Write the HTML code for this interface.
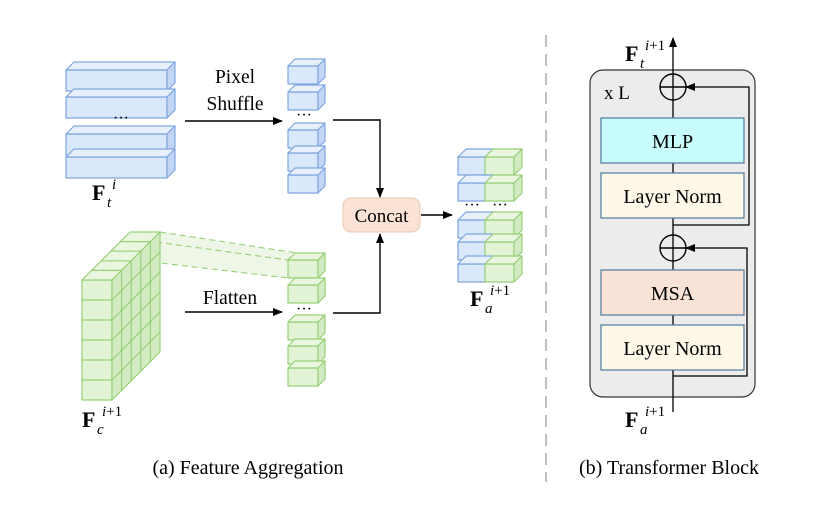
<!DOCTYPE html>
<html><head><meta charset="utf-8"><style>
html,body{margin:0;padding:0;background:#fff;}
svg{display:block;font-family:"Liberation Serif",serif;}
</style></head><body>
<svg width="814" height="514" viewBox="0 0 814 514" xmlns="http://www.w3.org/2000/svg">
<defs>
<marker id="ar" markerWidth="10" markerHeight="8" refX="9" refY="4" orient="auto" markerUnits="userSpaceOnUse"><path d="M0,0 L10,4 L0,8 Z" fill="#000"/></marker>
</defs>
<g stroke="#7ea6e0" stroke-width="1.2" stroke-linejoin="round">
<g><rect x="66" y="70" width="101" height="21" fill="#dae8fc"/><polygon points="66,70 74,62 175,62 167,70" fill="#e8f0fd"/><polygon points="167,70 175,62 175,83 167,91" fill="#c2d5f4"/></g>
<g><rect x="66" y="97" width="101" height="21" fill="#dae8fc"/><polygon points="66,97 74,89 175,89 167,97" fill="#e8f0fd"/><polygon points="167,97 175,89 175,110 167,118" fill="#c2d5f4"/></g>
<g><rect x="66" y="134" width="101" height="21" fill="#dae8fc"/><polygon points="66,134 74,126 175,126 167,134" fill="#e8f0fd"/><polygon points="167,134 175,126 175,147 167,155" fill="#c2d5f4"/></g>
<g><rect x="66" y="157" width="101" height="21" fill="#dae8fc"/><polygon points="66,157 74,149 175,149 167,157" fill="#e8f0fd"/><polygon points="167,157 175,149 175,170 167,178" fill="#c2d5f4"/></g>
<g><rect x="288" y="66" width="30" height="18" fill="#dae8fc"/><polygon points="288,66 295,59 325,59 318,66" fill="#e8f0fd"/><polygon points="318,66 325,59 325,77 318,84" fill="#c2d5f4"/></g>
<g><rect x="288" y="92" width="30" height="18" fill="#dae8fc"/><polygon points="288,92 295,85 325,85 318,92" fill="#e8f0fd"/><polygon points="318,92 325,85 325,103 318,110" fill="#c2d5f4"/></g>
<g><rect x="288" y="130" width="30" height="18" fill="#dae8fc"/><polygon points="288,130 295,123 325,123 318,130" fill="#e8f0fd"/><polygon points="318,130 325,123 325,141 318,148" fill="#c2d5f4"/></g>
<g><rect x="288" y="153" width="30" height="18" fill="#dae8fc"/><polygon points="288,153 295,146 325,146 318,153" fill="#e8f0fd"/><polygon points="318,153 325,146 325,164 318,171" fill="#c2d5f4"/></g>
<g><rect x="288" y="175" width="30" height="18" fill="#dae8fc"/><polygon points="288,175 295,168 325,168 318,175" fill="#e8f0fd"/><polygon points="318,175 325,168 325,186 318,193" fill="#c2d5f4"/></g>
</g>
<polygon points="160,232 295,253 288,278 150,262" fill="#eef6e8" stroke="none"/>
<g stroke="#97d077" stroke-width="1.1" stroke-dasharray="6,4" fill="none">
<line x1="160" y1="232" x2="297" y2="253"/><line x1="156" y1="242" x2="288" y2="260"/><line x1="152" y1="262" x2="288" y2="278"/>
</g>
<g stroke="#97d077" stroke-width="1.2" stroke-linejoin="round">
<rect x="82" y="280" width="30" height="120" fill="#e3f3d6"/>
<polygon points="82,280 130,232 160,232 112,280" fill="#eaf6e0"/>
<polygon points="112,280 160,232 160,352 112,400" fill="#d3ebc2"/>
<g fill="none">
<line x1="82" y1="300" x2="112" y2="300"/><line x1="82" y1="320" x2="112" y2="320"/><line x1="82" y1="340" x2="112" y2="340"/><line x1="82" y1="360" x2="112" y2="360"/><line x1="82" y1="380" x2="112" y2="380"/>
<line x1="112" y1="300" x2="160" y2="252"/><line x1="112" y1="320" x2="160" y2="272"/><line x1="112" y1="340" x2="160" y2="292"/><line x1="112" y1="360" x2="160" y2="312"/><line x1="112" y1="380" x2="160" y2="332"/>
<line x1="121.6" y1="270.4" x2="121.6" y2="390.4"/><line x1="131.2" y1="260.8" x2="131.2" y2="380.8"/><line x1="140.8" y1="251.2" x2="140.8" y2="371.2"/><line x1="150.4" y1="241.6" x2="150.4" y2="361.6"/>
<line x1="91.6" y1="270.4" x2="121.6" y2="270.4"/><line x1="101.2" y1="260.8" x2="131.2" y2="260.8"/><line x1="110.8" y1="251.2" x2="140.8" y2="251.2"/><line x1="120.4" y1="241.6" x2="150.4" y2="241.6"/>
</g>
<g><rect x="288" y="260" width="30" height="18" fill="#e3f3d6"/><polygon points="288,260 295,253 325,253 318,260" fill="#eaf6e0"/><polygon points="318,260 325,253 325,271 318,278" fill="#d3ebc2"/></g>
<g><rect x="288" y="285" width="30" height="18" fill="#e3f3d6"/><polygon points="288,285 295,278 325,278 318,285" fill="#eaf6e0"/><polygon points="318,285 325,278 325,296 318,303" fill="#d3ebc2"/></g>
<g><rect x="288" y="322" width="30" height="18" fill="#e3f3d6"/><polygon points="288,322 295,315 325,315 318,322" fill="#eaf6e0"/><polygon points="318,322 325,315 325,333 318,340" fill="#d3ebc2"/></g>
<g><rect x="288" y="346" width="30" height="18" fill="#e3f3d6"/><polygon points="288,346 295,339 325,339 318,346" fill="#eaf6e0"/><polygon points="318,346 325,339 325,357 318,364" fill="#d3ebc2"/></g>
<g><rect x="288" y="368" width="30" height="18" fill="#e3f3d6"/><polygon points="288,368 295,361 325,361 318,368" fill="#eaf6e0"/><polygon points="318,368 325,361 325,379 318,386" fill="#d3ebc2"/></g>
</g>
<g stroke-width="1.2" stroke-linejoin="round">
<g><rect x="458" y="157" width="27" height="18" fill="#dae8fc" stroke="#7ea6e0"/><polygon points="458,157 466,149 493,149 485,157" fill="#e8f0fd" stroke="#7ea6e0"/><rect x="485" y="157" width="29" height="18" fill="#e3f3d6" stroke="#97d077"/><polygon points="485,157 493,149 522,149 514,157" fill="#eaf6e0" stroke="#97d077"/><polygon points="514,157 522,149 522,167 514,175" fill="#d3ebc2" stroke="#97d077"/></g>
<g><rect x="458" y="183" width="27" height="18" fill="#dae8fc" stroke="#7ea6e0"/><polygon points="458,183 466,175 493,175 485,183" fill="#e8f0fd" stroke="#7ea6e0"/><rect x="485" y="183" width="29" height="18" fill="#e3f3d6" stroke="#97d077"/><polygon points="485,183 493,175 522,175 514,183" fill="#eaf6e0" stroke="#97d077"/><polygon points="514,183 522,175 522,193 514,201" fill="#d3ebc2" stroke="#97d077"/></g>
<g><rect x="458" y="220" width="27" height="18" fill="#dae8fc" stroke="#7ea6e0"/><polygon points="458,220 466,212 493,212 485,220" fill="#e8f0fd" stroke="#7ea6e0"/><rect x="485" y="220" width="29" height="18" fill="#e3f3d6" stroke="#97d077"/><polygon points="485,220 493,212 522,212 514,220" fill="#eaf6e0" stroke="#97d077"/><polygon points="514,220 522,212 522,230 514,238" fill="#d3ebc2" stroke="#97d077"/></g>
<g><rect x="458" y="242" width="27" height="18" fill="#dae8fc" stroke="#7ea6e0"/><polygon points="458,242 466,234 493,234 485,242" fill="#e8f0fd" stroke="#7ea6e0"/><rect x="485" y="242" width="29" height="18" fill="#e3f3d6" stroke="#97d077"/><polygon points="485,242 493,234 522,234 514,242" fill="#eaf6e0" stroke="#97d077"/><polygon points="514,242 522,234 522,252 514,260" fill="#d3ebc2" stroke="#97d077"/></g>
<g><rect x="458" y="264" width="27" height="18" fill="#dae8fc" stroke="#7ea6e0"/><polygon points="458,264 466,256 493,256 485,264" fill="#e8f0fd" stroke="#7ea6e0"/><rect x="485" y="264" width="29" height="18" fill="#e3f3d6" stroke="#97d077"/><polygon points="485,264 493,256 522,256 514,264" fill="#eaf6e0" stroke="#97d077"/><polygon points="514,264 522,256 522,274 514,282" fill="#d3ebc2" stroke="#97d077"/></g>
</g>
<g font-size="16" fill="#000" text-anchor="middle">
<text x="121" y="123">···</text><text x="304" y="120">···</text><text x="304" y="314">···</text><text x="472" y="210">···</text><text x="500" y="210">···</text>
</g>
<g stroke="#000" stroke-width="1.4" fill="none">
<line x1="185" y1="121" x2="282" y2="121" marker-end="url(#ar)"/>
<line x1="185" y1="312" x2="282" y2="312" marker-end="url(#ar)"/>
<polyline points="333,120 380,120 380,197" marker-end="url(#ar)"/>
<polyline points="333,313 380,313 380,234" marker-end="url(#ar)"/>
<line x1="421" y1="215" x2="452" y2="215" marker-end="url(#ar)"/>
</g>
<rect x="343" y="198" width="77" height="34" rx="8" fill="#fae3d4" stroke="#e9c9b4" stroke-width="1"/>
<text x="381.5" y="222" font-size="19" text-anchor="middle">Concat</text>
<g font-size="19.5" text-anchor="middle">
<text x="235" y="83">Pixel</text><text x="235" y="110">Shuffle</text><text x="230" y="304">Flatten</text>
</g>
<g font-size="22">
<text x="92" y="200" font-weight="bold">F</text><text x="107" y="207" font-size="15" font-style="italic">t</text><text x="112" y="189" font-size="15" font-style="italic">i</text>
<text x="82" y="427" font-weight="bold">F</text><text x="97" y="434" font-size="15" font-style="italic">c</text><text x="102" y="416" font-size="15"><tspan font-style="italic">i</tspan>+1</text>
<text x="470" y="306" font-weight="bold">F</text><text x="485" y="313" font-size="15" font-style="italic">a</text><text x="490" y="295" font-size="15"><tspan font-style="italic">i</tspan>+1</text>
<text x="625" y="61" font-weight="bold">F</text><text x="640" y="68" font-size="15" font-style="italic">t</text><text x="645" y="50" font-size="15"><tspan font-style="italic">i</tspan>+1</text>
<text x="625" y="427" font-weight="bold">F</text><text x="640" y="434" font-size="15" font-style="italic">a</text><text x="645" y="416" font-size="15"><tspan font-style="italic">i</tspan>+1</text>
</g>
<line x1="546" y1="35" x2="546" y2="482" stroke="#aaa" stroke-width="1.5" stroke-dasharray="12,7"/>
<rect x="590" y="70" width="165" height="327" rx="13" fill="#ececec" stroke="#333" stroke-width="1.2"/>
<text x="604" y="99" font-size="19">x L</text>
<g stroke="#000" stroke-width="1.3" fill="none">
<line x1="673" y1="412" x2="673" y2="38" marker-end="url(#ar)"/>
<polyline points="673,225 749,225 749,87 686,87" marker-end="url(#ar)"/>
<polyline points="673,376 747,376 747,248 686,248" marker-end="url(#ar)"/>
</g>
<g stroke="#4d7aa0" stroke-width="1.2">
<rect x="601" y="118" width="143" height="45" fill="#c8fcfd"/>
<rect x="601" y="173" width="143" height="45" fill="#fdf8e8"/>
<rect x="601" y="270" width="143" height="45" fill="#f9e3d6"/>
<rect x="601" y="325" width="143" height="45" fill="#fdf8e8"/>
</g>
<g font-size="20" text-anchor="middle">
<text x="672.5" y="148">MLP</text><text x="672.5" y="203">Layer Norm</text><text x="672.5" y="300">MSA</text><text x="672.5" y="355">Layer Norm</text>
</g>
<g stroke="#000" stroke-width="1.4">
<circle cx="673" cy="87" r="13" fill="none"/><line x1="660" y1="87" x2="686" y2="87"/>
<circle cx="673" cy="248" r="13" fill="none"/><line x1="660" y1="248" x2="686" y2="248"/>
</g>
<text x="248" y="474" font-size="20" text-anchor="middle">(a) Feature Aggregation</text>
<text x="669" y="474" font-size="20" text-anchor="middle">(b) Transformer Block</text>
</svg>
</body></html>
